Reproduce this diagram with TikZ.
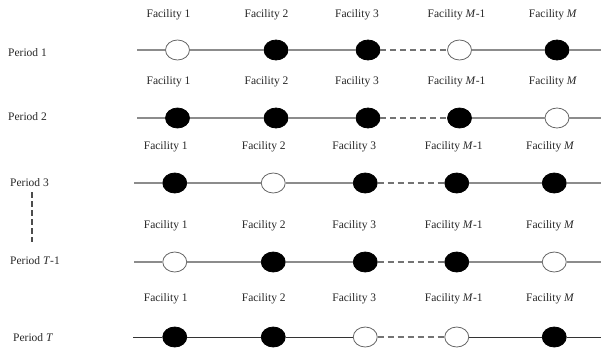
\documentclass[tikz,border=0pt]{standalone}
\usepackage{fontspec}
\setmainfont{Liberation Serif}
\usetikzlibrary{shapes.geometric}
\begin{document}
\begin{tikzpicture}[x=1pt,y=-1pt,
  fac/.style={ellipse, minimum width=24pt, minimum height=20pt, inner sep=0pt, line width=0.8pt},
  lab/.style={font=\fontsize{11.5}{13}\selectfont, text=black!85, inner sep=0pt},
  per/.style={font=\fontsize{11.5}{13}\selectfont, text=black!85, inner sep=0pt, anchor=west},
  link/.style={line width=1.2pt},
  gap/.style={line width=1.3pt, draw=black!55, dash pattern=on 6pt off 4pt}]
\useasboundingbox (0,0) rectangle (601,349);
% period labels
\node[per] (p1) at (8,53) {Period 1};
\node[per] (p2) at (8,117) {Period 2};
\node[per] (p3) at (10,183) {Period 3};
\node[per] (p4) at (10,261) {Period \textit{T}-1};
\node[per] (p5) at (13,338) {Period \textit{T}};
\coordinate (v1) at (32,192);
\coordinate (v2) at (32,242);
\draw[line width=1.1pt, draw=black!70, dash pattern=on 6pt off 3pt] (v1) -- (v2);
\foreach \r/\yl/\yf/\dx/\xs/\a/\b/\c/\d/\e/\lc/\lw in {
  1/50/15/0/137/white/black/black/white/black/black!45/1.2,
  2/118/82/0/137/black/black/black/black/white/black!45/1.2,
  3/183/147/-2.75/134/black/white/black/black/black/black!45/1.2,
  4/262/226/-2.75/134/white/black/black/black/white/black!45/1.2,
  5/337/299/-2.75/133/black/black/white/white/black/black!80/1.0}{
  \coordinate (s\r) at (\xs,\yl);
  \coordinate (e\r) at (601,\yl);
  \node[fac, fill=\a, draw=\a!40!black] (c\r-1) at (177.5+\dx,\yl) {};
  \node[fac, fill=\b, draw=\b!40!black] (c\r-2) at (276+\dx,\yl) {};
  \node[fac, fill=\c, draw=\c!40!black] (c\r-3) at (368+\dx,\yl) {};
  \node[fac, fill=\d, draw=\d!40!black] (c\r-4) at (459.5+\dx,\yl) {};
  \node[fac, fill=\e, draw=\e!40!black] (c\r-5) at (557+\dx,\yl) {};
  \draw[link, line width=\lw pt, draw=\lc] (s\r) -- (c\r-1) (c\r-1) -- (c\r-2) (c\r-2) -- (c\r-3)
     (c\r-4) -- (c\r-5) (c\r-5) -- (e\r);
  \draw[gap] (c\r-3) -- (c\r-4);
  \node[lab] (f\r-1) at (168.5+\dx,\yf) {Facility 1};
  \node[lab] (f\r-2) at (266.5+\dx,\yf) {Facility 2};
  \node[lab] (f\r-3) at (357+\dx,\yf) {Facility 3};
  \node[lab] (f\r-4) at (456.5+\dx,\yf) {Facility \textit{M}-1};
  \node[lab] (f\r-5) at (553+\dx,\yf) {Facility \textit{M}};
}
\end{tikzpicture}
\end{document}
